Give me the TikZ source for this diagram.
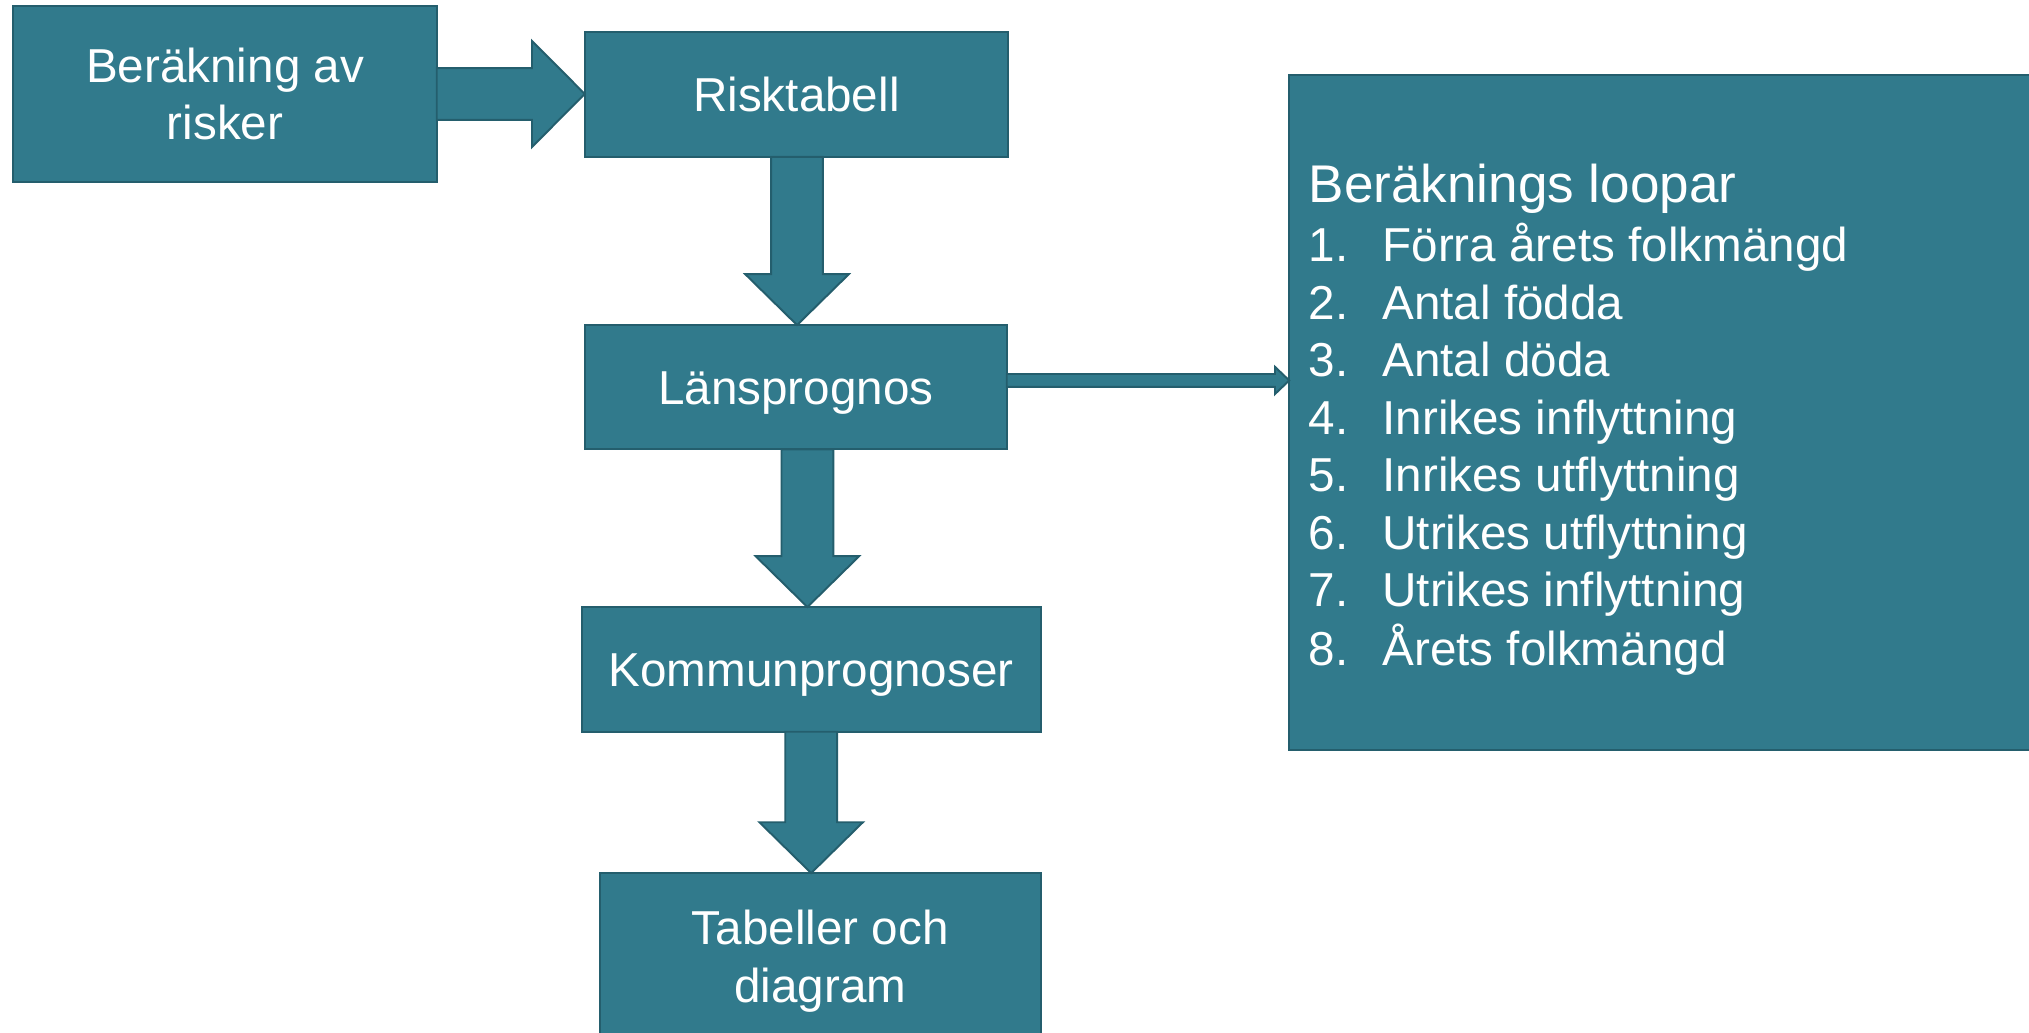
\documentclass[tikz,border=0pt]{standalone}
\usepackage{fontspec}
\setmainfont{Liberation Sans}
\usetikzlibrary{calc}
\definecolor{boxfill}{HTML}{317A8C}
\definecolor{boxline}{HTML}{245E6D}
% block arrow pointing down: #1 start (top), #2 tip
\newcommand\tlDown[2]{%
  \draw[arrowshape] ($(#1)+(-20,0)$) -- ($(#1)+(20,0)$) -- ($(#2)+(20,-39.3)$)
    -- ($(#2)+(40,-39.3)$) -- (#2) -- ($(#2)+(-40,-39.3)$) -- ($(#2)+(-20,-39.3)$) -- cycle;}
% block arrow pointing right: #1 start, #2 tip, #3 shaft half width, #4 head half width, #5 head length
\newcommand\tlRight[5]{%
  \draw[arrowshape] ($(#1)+(0,-#3)$) -- ($(#2)+(-#5,-#3)$) -- ($(#2)+(-#5,-#4)$) -- (#2)
    -- ($(#2)+(-#5,#4)$) -- ($(#2)+(-#5,#3)$) -- ($(#1)+(0,#3)$) -- cycle;}
\begin{document}
\begin{tikzpicture}[x=0.5pt,y=-0.5pt,
  box/.style={draw=boxline, fill=boxfill, line width=0.75pt, inner sep=0pt, outer sep=0pt,
    text=white, font=\fontsize{18.4}{22.25}\selectfont, align=center},
  oneline/.style={text height=13.17pt, text depth=0pt},
  arrowshape/.style={draw=boxline, fill=boxfill, line width=0.75pt, line join=miter},
  listtext/.style={anchor=base west, inner sep=0pt, text=white, font=\fontsize{18.4}{22.22}\selectfont}]
\clip (0,0) rectangle (1568,798);
\fill[white] (0,0) rectangle (1568,798);

\node[box, minimum width=163.55pt, minimum height=68pt] (risks) at (173.95,72.6) {Beräkning av\\risker};
\node[box, oneline, minimum width=163.55pt, minimum height=48.15pt] (risk) at (615.45,73.15) {Risktabell};
\node[box, oneline, minimum width=163.05pt, minimum height=48pt] (lans) at (614.95,299.2) {Länsprognos};
\node[box, oneline, minimum width=177.35pt, minimum height=48.2pt] (kommun) at (626.85,517.3) {Kommunprognoser};
\node[box, minimum width=170.25pt, minimum height=68pt] (tab) at (633.95,742.7) {Tabeller och\\diagram};
\node[box, minimum width=320pt, minimum height=260.95pt, anchor=north west] (loops) at (996.3,57.7) {};

\node[listtext] (looptext) at (1011,156.6) {\begin{tabular}[t]{@{}p{28.5pt}@{}l@{}}
\multicolumn{2}{@{}l@{}}{\fontsize{20.5}{22.22}\selectfont Beräknings loopar}\\[0.7pt]
1.&Förra årets folkmängd\\
2.&Antal födda\\
3.&Antal döda\\
4.&Inrikes inflyttning\\
5.&Inrikes utflyttning\\
6.&Utrikes utflyttning\\
7.&Utrikes inflyttning\\
8.&Årets folkmängd
\end{tabular}};

% arrows
\coordinate (a1s) at (risks.east);
\coordinate (a1t) at (a1s -| risk.west);
\tlRight{a1s}{a1t}{20}{41}{40.8}

\coordinate (a2s) at ($(risk.south)+(0.5,0)$);
\coordinate (a2t) at (a2s |- lans.north);
\tlDown{a2s}{a2t}

\coordinate (a3s) at ($(lans.south)+(9,0)$);
\coordinate (a3t) at (a3s |- kommun.north);
\tlDown{a3s}{a3t}

\coordinate (a4s) at (kommun.south);
\coordinate (a4t) at (a4s |- tab.north);
\tlDown{a4s}{a4t}

\coordinate (t0) at ($(lans.east)+(0,-5.2)$);
\coordinate (t1) at (t0 -| loops.west);
\tlRight{t0}{t1}{5}{10.5}{11}
\end{tikzpicture}
\end{document}
